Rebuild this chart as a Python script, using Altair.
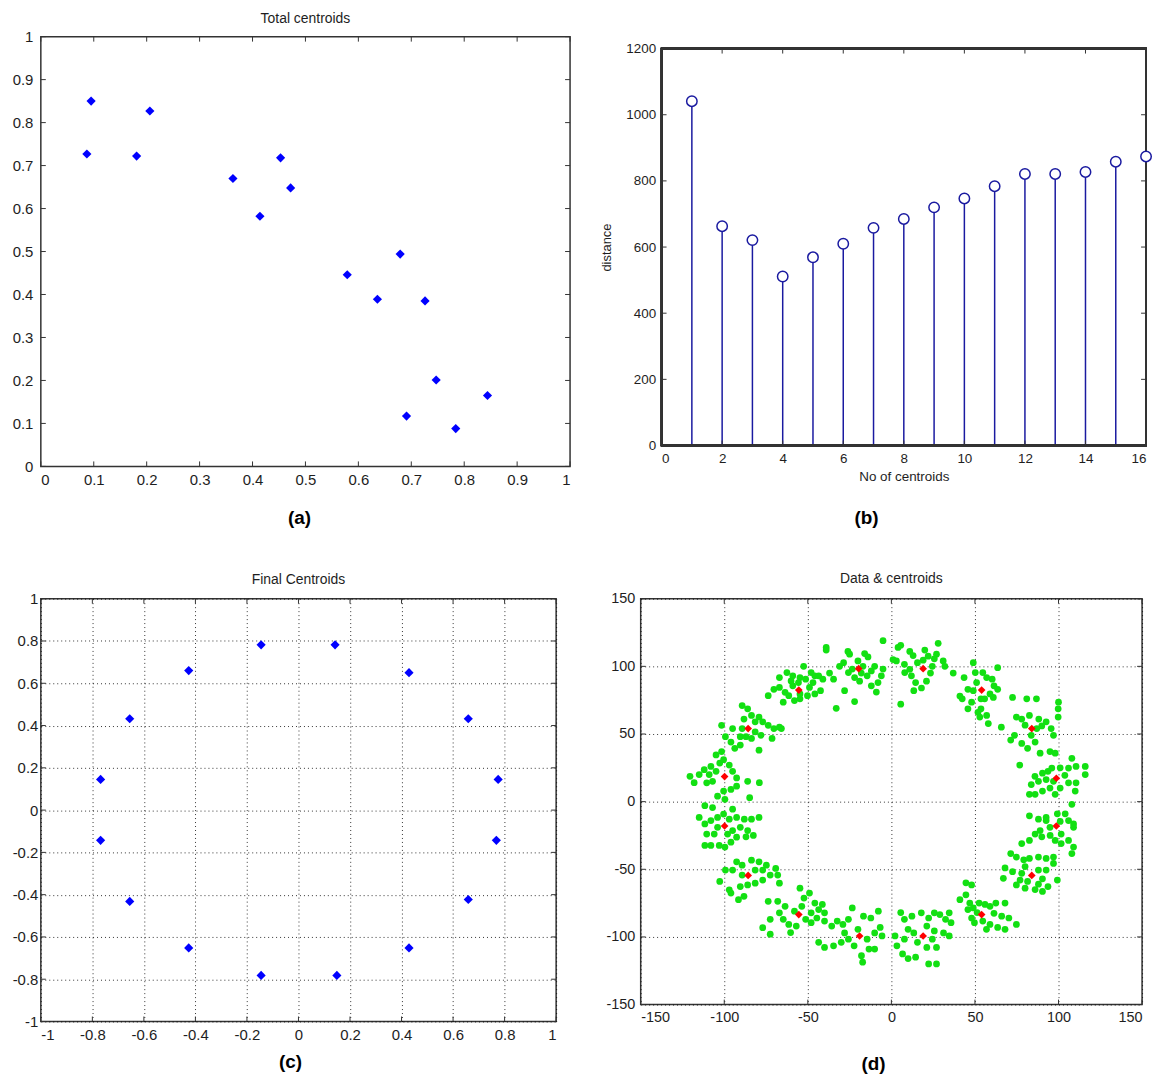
import altair as alt
import pandas as pd

# ---------------- data ----------------
# (a) Total centroids
a_x = [0.095, 0.206, 0.087, 0.181, 0.363, 0.453, 0.472, 0.414,
       0.579, 0.679, 0.636, 0.726, 0.747, 0.844, 0.691, 0.784]
a_y = [0.850, 0.827, 0.727, 0.722, 0.670, 0.718, 0.648, 0.582,
       0.446, 0.494, 0.389, 0.385, 0.201, 0.165, 0.117, 0.088]
a_ticks = [0, 0.1, 0.2, 0.3, 0.4, 0.5, 0.6, 0.7, 0.8, 0.9, 1]

# (b) distance vs number of centroids
b_k = [1, 2, 3, 4, 5, 6, 7, 8, 9, 10, 11, 12, 13, 14, 15, 16]
b_dist = [1041, 663, 621, 511, 569, 610, 658, 685, 720, 747, 784, 821, 821, 827, 858, 874]
b_xticks = [0, 2, 4, 6, 8, 10, 12, 14, 16]
b_yticks = [0, 200, 400, 600, 800, 1000, 1200]

# (c) Final centroids
c_x = [-0.145, 0.142, -0.426, 0.429, -0.655, 0.659, -0.768, 0.775,
       -0.768, 0.768, -0.655, 0.659, -0.426, 0.429, -0.145, 0.149]
c_y = [0.782, 0.782, 0.660, 0.650, 0.432, 0.432, 0.145, 0.145,
       -0.143, -0.143, -0.432, -0.423, -0.652, -0.652, -0.782, -0.782]
c_ticks = [-1, -0.8, -0.6, -0.4, -0.2, 0, 0.2, 0.4, 0.6, 0.8, 1]

# (d) Data & centroids
d_cx = [-19.6, 19, -55.4, 54, -85.7, 84, -99.8, 98.7,
        -99.8, 98.7, -85.7, 84, -55.4, 54, -19, 19]
d_cy = [98.3, 98.3, 82.5, 82.5, 54, 54, 18.5, 17.3,
        -18, -18, -54.5, -54.5, -83.5, -83.5, -99.3, -99.3]
d_ticks = [-150, -100, -50, 0, 50, 100, 150]

green_points = [
    (-39, 114), (-39, 112), (-26, 111), (-25, 109), (-16, 109.5), (-14, 107), (-28.6, 102.7), (-31, 100),
    (-23.4, 98), (-17, 100), (-12, 96.6), (-10, 100), (-5, 98), (-6, 93), (-8, 88), (-12, 85.6), (-19, 89),
    (-22, 91.7), (-28, 82), (-22, 74), (-33, 69), (-37, 95), (-41, 90.5), (-43.5, 93), (-34.6, 90.5),
    (-20, 104), (-18, 95), (-14.5, 93), (-9, 81), (-25.7, 95.4),
    (-5, 119), (5.6, 115.6), (4, 114), (11, 111), (13, 108), (20, 112), (22, 107.5), (28, 117), (27, 109),
    (31, 104), (37, 95), (24.5, 100), (15.6, 102.7), (7.8, 101.5), (3, 104), (1, 105), (8, 95.4), (12, 93),
    (14.5, 88), (18, 84), (13.4, 82), (21, 89), (23.4, 95), (5.6, 72), (32, 100), (25.7, 105.6), (19, 104.6),
    (11, 97.8),
    (49, 102.7), (43.5, 91.7), (41, 78), (42.4, 76), (45.8, 83), (48, 73.5), (51.8, 66), (52.9, 62.5),
    (53.6, 68.6), (57, 63.7), (58, 57.7), (65.8, 55), (55.8, 76), (59, 79.6), (61.4, 85.6), (63.6, 83),
    (60.3, 90.5), (57, 91.7), (51, 88), (50.2, 95.4), (54.7, 95.4), (63.6, 99), (49, 82), (45.8, 68.6),
    (61, 77), (53.6, 76),
    (72.5, 77), (81, 76), (86.8, 76), (100, 73.5), (99.8, 68.6), (99.8, 62.5), (74.8, 62.5), (78, 61),
    (82.6, 63.7), (88.2, 61), (92.6, 59), (90, 56), (95.6, 54), (97, 49), (73.7, 49), (71.4, 45.5), (78, 43),
    (81.5, 39.4), (86, 44), (89, 35.8), (94.9, 37), (98, 35.8), (76.8, 27), (83.7, 49), (80, 56.5), (87, 54),
    (108, 32), (101, 25), (106, 24.8), (110.5, 26), (116, 26), (116, 20), (90.4, 21), (93.7, 22.4), (88, 15),
    (83.7, 12.6), (82.6, 5.4), (90.4, 7.8), (94.9, 10), (98, 5.4), (101, 10), (106, 13.9), (110.5, 13.9),
    (103.8, 19.5), (97, 15), (92.6, 16.3), (85.9, 18.7), (96, 24.8), (86, 5.4), (110, 7.8),
    (82.6, -10.5), (88, -13), (92.6, -11.7), (99.3, -9), (104, -9), (108, -2), (109, -16.5), (109, -19),
    (106, -14), (101, -14.6), (94.9, -19), (89, -21.4), (86, -24), (82.6, -28.7), (78, -31), (90, -26),
    (95, -25), (98, -28.7), (101.6, -24), (101.6, -31), (106, -28.7), (109, -33.6), (108, -38.4), (92.6, -14),
    (71.4, -38.4), (74.8, -41), (79.2, -43), (82.6, -42), (88, -41), (92.6, -42), (97, -41), (97, -45.7),
    (68, -49), (72.5, -51.8), (78, -53), (77, -58), (81.5, -59), (67, -56.7), (74.8, -61.6), (80, -64),
    (86, -65), (90.4, -66.4), (93.7, -62.8), (99.3, -58), (90.4, -57), (88, -50.6), (92.6, -50.6), (88, -61),
    (80, -48),
    (44.6, -60), (48, -61.6), (44.6, -68.9), (41, -72.5), (46.9, -75), (45.8, -79.8), (49, -78.6),
    (52.5, -75), (56, -76), (59, -77.4), (62.5, -75), (68, -75), (61.4, -82.5), (66, -84.7), (70.3, -86),
    (74.8, -90.8), (68, -94.4), (63.6, -93), (59, -90.8), (54.7, -88.3), (49.7, -89.5), (48, -86),
    (56.9, -94.4), (51.3, -82),
    (5.6, -82), (7.8, -87), (12.3, -84.7), (17.9, -82.2), (22.3, -86), (25.7, -82.2), (29, -83.5),
    (32.4, -87), (34.6, -82.2), (35.7, -89.5), (34.6, -99.3), (31.2, -97), (25.7, -95.6), (24.5, -101.7),
    (27, -107.8), (21.2, -107.8), (22.3, -120), (27, -120), (14.5, -115), (10, -116), (6.7, -112.6),
    (3.3, -106.6), (2.2, -99.3), (7.8, -101.7), (13.4, -97), (15.6, -104), (21.2, -92), (10, -94.4),
    (-7.8, -81), (-12.3, -86), (-16.7, -84.7), (-23.4, -78.6), (-25.7, -87), (-29, -90.8), (-32.4, -88.3),
    (-35.7, -92), (-40, -88.3), (-43.5, -104), (-40, -107.8), (-34.6, -106.6), (-30, -104), (-25.7, -101.7),
    (-22.3, -106.6), (-17.9, -113.9), (-17.2, -118.7), (-13.4, -109), (-10, -109), (-5.6, -99.3),
    (-6.7, -93), (-10, -97), (-14.5, -101.7), (-20, -94.4), (-28, -97),
    (-54.7, -64), (-49, -67.6), (-52.3, -71.3), (-45.8, -75), (-41.3, -76), (-43.5, -79.8), (-48, -82.2),
    (-51.3, -87), (-44.6, -86), (-40, -82.2), (-63.6, -77.4), (-67, -82.2), (-64.7, -87), (-61.4, -90.8),
    (-56.9, -92), (-60.3, -96.8), (-72.5, -87), (-77, -93.2), (-72.5, -98), (-68, -73.7), (-73.7, -73.7),
    (-53.6, -77.4), (-58, -81), (-48, -89.5),
    (-92.6, -44.5), (-89.3, -47), (-83.7, -43.3), (-79.2, -44.5), (-74.8, -47), (-69.2, -49.4),
    (-72.5, -54.3), (-77, -58), (-81.5, -60.3), (-86, -61.6), (-90.4, -62.8), (-97, -65.2), (-96, -67.6),
    (-91.5, -72.5), (-88.2, -70), (-102.7, -59), (-99.3, -50.6), (-95, -50.6), (-89.3, -54.3),
    (-81.5, -50.6), (-77, -50.6), (-68, -54.3), (-67, -60.3),
    (-115, -11.7), (-111.6, -16.5), (-108, -14), (-104, -11.7), (-100.4, -9.2), (-97, -13), (-92.6, -11.7),
    (-88, -13), (-83.7, -13), (-79.2, -11.7), (-90.4, -19), (-86, -21.4), (-82.6, -25), (-87, -26),
    (-92.6, -26.3), (-96, -30), (-99.6, -33.6), (-103, -32.4), (-108, -32.4), (-111.6, -32.4), (-106, -24),
    (-110.5, -24), (-104, -19), (-95, -21.4), (-98, -24), (-95, -5.6), (-107, -4.4),
    (-120.5, 18.7), (-118, 14), (-115, 20), (-112, 23.6), (-109, 20), (-110.5, 13.9), (-107, 15),
    (-104.9, 22.4), (-102.7, 28.5), (-104.9, 34.5), (-100.4, 31), (-97, 27), (-95, 22.4), (-92.6, 17.5),
    (-92.6, 11.4), (-96, 9), (-100.4, 7.8), (-104, 4), (-99.6, 1.7), (-86, 15), (-79, 14), (-84.8, 2.9),
    (-111.6, -3), (-108, 26), (-101.6, 37),
    (-101.6, 56.4), (-99.3, 48), (-96, 44), (-93.7, 39.4), (-90.4, 41.8), (-90.4, 48), (-89.3, 54),
    (-88.2, 61), (-89.3, 71), (-86, 68.6), (-83.7, 63.7), (-81.5, 59), (-79.2, 62.5), (-77, 59),
    (-81.5, 51.6), (-78, 49), (-83.7, 46.7), (-87, 48), (-73.7, 56.4), (-70.3, 54), (-67, 55), (-65.8, 54),
    (-71.4, 46.7), (-79.2, 38), (-95, 54),
    (-67, 91.7), (-62.5, 95.4), (-59, 93), (-54.7, 91.7), (-51.3, 90.5), (-52.5, 100), (-48, 95.4),
    (-45.8, 93), (-46.9, 88), (-49, 84.4), (-50.2, 78.3), (-45.8, 79.6), (-42.4, 82), (-54.7, 76),
    (-58, 74.7), (-61.4, 78.3), (-63.6, 80.8), (-67, 84.4), (-70.3, 83), (-73.7, 78.3), (-64.7, 73.5),
    (-59, 85.6), (-55.6, 88), (-54.7, 79.6), (-60, 89.2),
]

# ---------------- style ----------------
FONT = "Liberation Sans"
FRAME = "#333333"
TEXT = "#1e1e1e"
BLUE = "#0000ff"
NAVY = "#1a1aa0"


def inner_ticks(xvals, yvals, xs, ys, w, top, bottom, xt=None, yt=None, L=5):
    dx = pd.DataFrame({"tx": xvals})
    dy = pd.DataFrame({"ty": yvals})
    X = alt.X("tx:Q", scale=xs, title=xt)
    Y = alt.Y("ty:Q", scale=ys, title=yt)
    r = dict(color=FRAME, strokeWidth=1)
    return [
        alt.Chart(dx).mark_rule(**r).encode(x=X, y=alt.value(top), y2=alt.value(top + L)),
        alt.Chart(dx).mark_rule(**r).encode(x=X, y=alt.value(bottom - L), y2=alt.value(bottom)),
        alt.Chart(dy).mark_rule(**r).encode(y=Y, x=alt.value(0), x2=alt.value(L)),
        alt.Chart(dy).mark_rule(**r).encode(y=Y, x=alt.value(w - L), x2=alt.value(w)),
    ]


def caption(text, x, y):
    return alt.Chart(pd.DataFrame({"t": [text]})).mark_text(
        font="Liberation Sans", fontSize=19, fontWeight="bold", color="#000000",
        baseline="middle", align="center"
    ).encode(text="t:N", x=alt.value(x), y=alt.value(y))


LBL = "replace(format(datum.value, '~g'), '\u2212', '-')"
grid_ax = dict(grid=True, gridDash=[1, 3], gridColor="#000000", gridOpacity=0.8, gridWidth=1)

# ---------------- panel (a) ----------------
AW, AH = 532, 432
axs = alt.Scale(domain=[0, 1], nice=False, zero=False)
ays = alt.Scale(domain=[0, 1], nice=False, zero=False)
da = pd.DataFrame({"x": a_x, "y": a_y})
pa_pts = alt.Chart(da).mark_point(shape="diamond", filled=True, color=BLUE, size=85, opacity=1).encode(
    x=alt.X("x:Q", scale=axs, title=None,
            axis=alt.Axis(values=a_ticks, labelExpr=LBL, labelFontSize=15)),
    y=alt.Y("y:Q", scale=ays, title=None,
            axis=alt.Axis(values=a_ticks, labelExpr=LBL, labelPadding=8, labelFontSize=15)),
)
panel_a = alt.layer(
    pa_pts, *inner_ticks(a_ticks, a_ticks, axs, ays, AW, 0, AH), caption("(a)", 260, AH + 52)
).properties(width=AW, height=AH, title=alt.Title("Total centroids", offset=4))

# ---------------- panel (b) ----------------
# the plot box of (b) starts 12px lower than that of (a)
BW, BTOP, BH = 487, 12, 399
bxs = alt.Scale(domain=[0, 16], nice=False, zero=False)
bys = alt.Scale(domain=[0, 1200], nice=False, zero=False, range=[BTOP + BH, BTOP])
db = pd.DataFrame({"k": b_k, "d": b_dist})
XT, YT = "No of centroids", "distance"
pb_frame = alt.Chart(db).mark_rect(filled=False, stroke=FRAME, strokeWidth=1.5).encode(
    x=alt.datum(0), x2=alt.datum(16), y=alt.datum(0), y2=alt.datum(1200)
)
pb_stem = alt.Chart(db).mark_rule(color=NAVY, strokeWidth=1.5).encode(
    x=alt.X("k:Q", scale=bxs, title=XT,
            axis=alt.Axis(values=b_xticks, labelExpr=LBL, titlePadding=5, titleFontSize=13.5)),
    y=alt.Y("d:Q", scale=bys, title=YT,
            axis=alt.Axis(values=b_yticks, labelExpr=LBL, titlePadding=12, titleFontSize=13)),
    y2=alt.datum(0),
)
pb_pts = alt.Chart(db).mark_point(shape="circle", filled=True, fill="white", stroke=NAVY,
                                  strokeWidth=1.5, size=110, opacity=1).encode(
    x=alt.X("k:Q", scale=bxs, title=XT), y=alt.Y("d:Q", scale=bys, title=YT)
)
panel_b = alt.layer(
    pb_stem, pb_frame, pb_pts,
    *inner_ticks(b_xticks, b_yticks, bxs, bys, BW, BTOP, BTOP + BH, XT, YT),
    caption("(b)", 206, BTOP + BH + 73)
).properties(width=BW, height=BTOP + BH, view=alt.ViewBackground(stroke="transparent"))

# ---------------- panel (c) ----------------
CW, CH = 518, 425
cxs = alt.Scale(domain=[-1, 1], nice=False, zero=False)
cys = alt.Scale(domain=[-1, 1], nice=False, zero=False)
dc = pd.DataFrame({"x": c_x, "y": c_y})
pc_pts = alt.Chart(dc).mark_point(shape="diamond", filled=True, color=BLUE, size=85, opacity=1).encode(
    x=alt.X("x:Q", scale=cxs, title=None,
            axis=alt.Axis(values=c_ticks, labelExpr=LBL, labelFontSize=15, **grid_ax)),
    y=alt.Y("y:Q", scale=cys, title=None,
            axis=alt.Axis(values=c_ticks, labelExpr=LBL, labelPadding=3, labelFontSize=15, **grid_ax)),
)
panel_c = alt.layer(
    pc_pts, *inner_ticks(c_ticks, c_ticks, cxs, cys, CW, 0, CH), caption("(c)", 251, CH + 41)
).properties(width=CW, height=CH, title=alt.Title("Final Centroids", offset=5))

# ---------------- panel (d) ----------------
DW, DH = 504, 408
dxs = alt.Scale(domain=[-150, 150], nice=False, zero=False)
dys = alt.Scale(domain=[-150, 150], nice=False, zero=False)
dg = pd.DataFrame(green_points, columns=["x", "y"])
dcen = pd.DataFrame({"x": d_cx, "y": d_cy})
pd_green = alt.Chart(dg).mark_circle(color="#12e012", size=46, opacity=1).encode(
    x=alt.X("x:Q", scale=dxs, title=None,
            axis=alt.Axis(values=d_ticks, labelExpr=LBL, labelFontSize=14.5, **grid_ax)),
    y=alt.Y("y:Q", scale=dys, title=None,
            axis=alt.Axis(values=d_ticks, labelExpr=LBL, labelFontSize=14.5, **grid_ax)),
)
pd_red = alt.Chart(dcen).mark_point(shape="diamond", filled=True, color="#ff0000", size=60, opacity=1).encode(
    x=alt.X("x:Q", scale=dxs, title=None), y=alt.Y("y:Q", scale=dys, title=None)
)
panel_d = alt.layer(
    pd_green, pd_red, *inner_ticks(d_ticks, d_ticks, dxs, dys, DW, 0, DH), caption("(d)", 234, DH + 60)
).properties(width=DW, height=DH, title=alt.Title("Data & centroids", offset=5))

row1 = alt.hconcat(panel_a, panel_b, spacing=28)
row2 = alt.hconcat(panel_c, panel_d, spacing=47)

chart = alt.vconcat(row1, row2, spacing=42).properties(
    padding={"left": 3, "top": 0, "right": 0, "bottom": 0},
    background="white",
).configure_view(
    stroke=FRAME, strokeWidth=1.5
).configure_axis(
    domain=False, ticks=False, tickSize=0, labelPadding=6,
    labelFont=FONT, labelFontSize=13.5, labelColor=TEXT,
    titleFont=FONT, titleFontSize=12, titleFontWeight="normal", titleColor=TEXT,
    grid=False,
).configure_title(
    font=FONT, fontSize=14, fontWeight="normal", color=TEXT, anchor="middle"
)

chart.save("out.html", embed_options={"renderer": "svg", "actions": False})
